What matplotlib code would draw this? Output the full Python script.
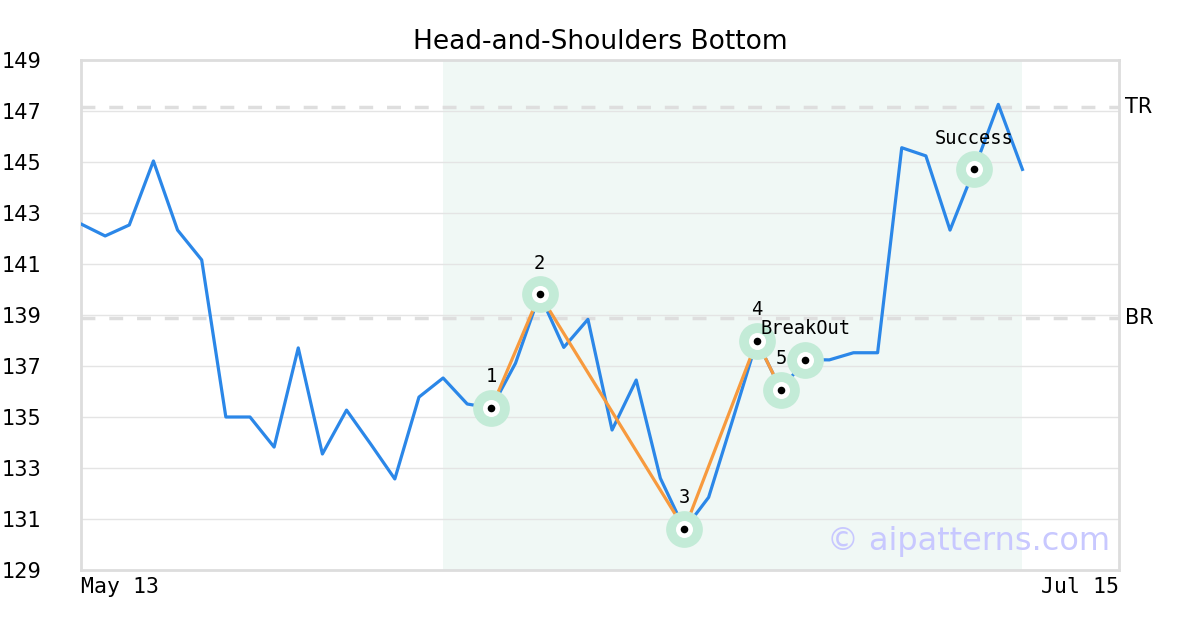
import numpy as np
import matplotlib.pyplot as plt

# closing prices, one per trading day
prices = [142.57, 142.10, 142.53, 145.04, 142.33, 141.16, 135.00, 135.00, 133.82, 137.71,
          133.55, 135.27, 133.94, 132.57, 135.78, 136.53, 135.51, 135.35, 137.11, 139.81,
          137.73, 138.83, 134.49, 136.45, 132.60, 130.60, 131.85, 134.90, 137.99, 136.06,
          137.25, 137.24, 137.52, 137.52, 145.56, 145.24, 142.33, 144.71, 147.26, 144.71]
n_days = 44
date_labels = ['May 13', 'Jul 15']

pattern_idx = [17, 19, 25, 28, 29]
pattern_labels = ['1', '2', '3', '4', '5']
breakout_idx = 30
success_idx = 37
shade_start, shade_end = 15, 39

top_resistance = 147.16
bottom_resistance = 138.88

blue = '#2b87e8'
orange = '#f79a3e'
halo = '#c3ebd7'

x = np.arange(len(prices))
y = np.array(prices)

fig = plt.figure(figsize=(12, 6.3), dpi=100)
ax = fig.add_axes([81 / 1200, 60 / 630, 1038 / 1200, 510 / 630])

ax.axvspan(shade_start, shade_end, color='#f0f8f5', zorder=0, lw=0)
ax.set_xlim(0, n_days - 1)
ax.set_ylim(129, 149)
ax.set_yticks(np.arange(129, 150, 2))
ax.grid(axis='y', color='#e4e4e4', lw=1)
ax.set_axisbelow(True)

for lvl, name in [(top_resistance, 'TR'), (bottom_resistance, 'BR')]:
    ax.axhline(lvl, color='#dedede', lw=2.5, ls=(0, (4, 4)), zorder=1)
    ax.text(n_days - 1 + 0.25, lvl, name, fontsize=15, va='center', ha='left')

ax.plot(x, y, color=blue, lw=2.3, zorder=3)
ax.plot(x[pattern_idx], y[pattern_idx], color=orange, lw=2.3, zorder=4)

marks = pattern_idx + [breakout_idx, success_idx]
ax.scatter(x[marks], y[marks], s=700, color=halo, lw=0, zorder=5)
ax.scatter(x[marks], y[marks], s=150, color='white', lw=0, zorder=6)
ax.scatter(x[marks], y[marks], s=30, color='black', lw=0, zorder=7)

labels = list(zip(pattern_idx, pattern_labels)) + [(breakout_idx, 'BreakOut'), (success_idx, 'Success')]
for i, lab in labels:
    ax.annotate(lab, (x[i], y[i]), xytext=(0, 22.5), textcoords='offset points',
                ha='center', va='center', fontsize=13.5, family='DejaVu Sans Mono', zorder=8)

ax.text(0.991, 0.055, '© aipatterns.com', transform=ax.transAxes, ha='right', va='center',
        fontsize=23, color='#c8c8ff', zorder=9)

ax.set_xticks([0, n_days - 1])
ax.set_xticklabels(date_labels, family='DejaVu Sans Mono', fontsize=15.5)
ax.get_xticklabels()[0].set_ha('left')
ax.get_xticklabels()[1].set_ha('right')
ax.tick_params(axis='both', length=0)
ax.tick_params(axis='x', pad=5)
ax.tick_params(axis='y', pad=28.5, labelsize=15)

for sp in ax.spines.values():
    sp.set_color('#dddddd')
    sp.set_linewidth(2)

ax.set_title('Head-and-Shoulders Bottom', fontsize=19, pad=8)

fig.savefig('out.png', dpi=100)
